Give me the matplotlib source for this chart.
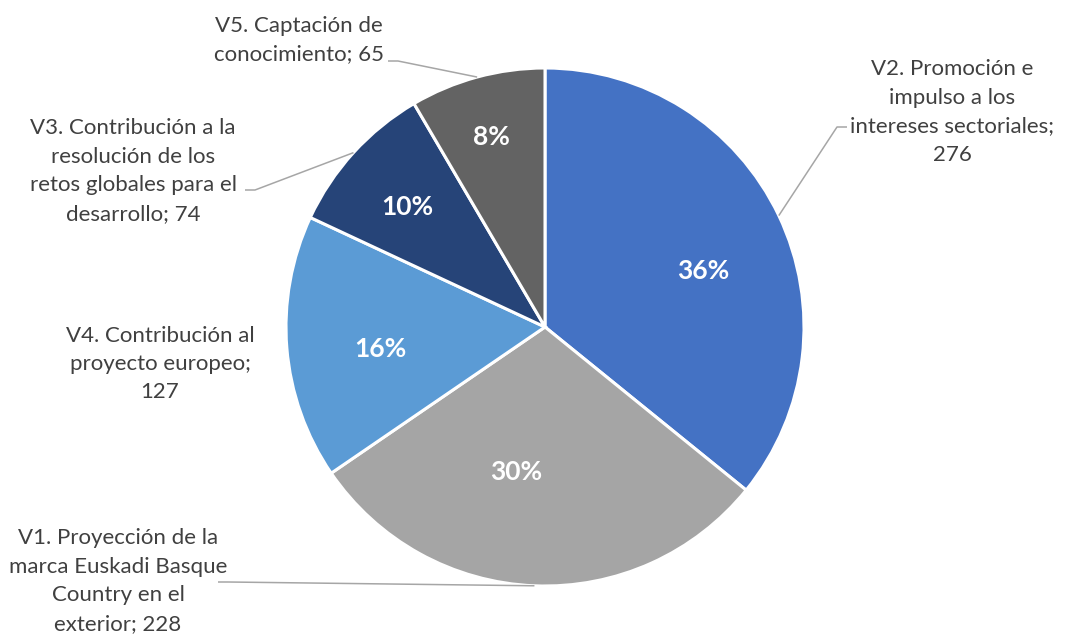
import numpy as np
import matplotlib
matplotlib.use("Agg")
from matplotlib import pyplot as plt

plt.rcParams['font.family'] = ['Lato', 'DejaVu Sans']

# datos (orden de Excel, sentido horario desde arriba)
etiquetas = ["V2. Promoción e\nimpulso a los\nintereses sectoriales;\n276",
             "V1. Proyección de la\nmarca Euskadi Basque\nCountry en el\nexterior; 228",
             "V4. Contribución al\nproyecto europeo;\n127",
             "V3. Contribución a la\nresolución de los\nretos globales para el\ndesarrollo; 74",
             "V5. Captación de\nconocimiento; 65"]
valores = [276, 228, 127, 74, 65]
colores = ["#4472C4", "#A5A5A5", "#5B9BD5", "#264478", "#636363"]

W, H = 1067, 634
cx, cy, R = 545, H - 327, 259

# posicion de las etiquetas (pixeles, y desde arriba)
pos_etq = [(952, 112), (118, 581), (160, 364), (133, 171), (299, 40)]
pos_pct = [(703, 271), (516, 472), (380, 349), (407, 207), (491, 137)]
guia = [(-1, 127), (1, 582), None, (1, 190), (1, 61)]  # lado del texto, y de la linea
borde_txt = [847, 218, None, 245, 388]

fig = plt.figure(figsize=(W / 100, H / 100), dpi=100)
ax = fig.add_axes([0, 0, 1, 1])

wedges, _ = ax.pie(valores, colors=colores, startangle=90, counterclock=False,
                   center=(cx, cy), radius=R,
                   wedgeprops=dict(edgecolor="white", linewidth=2.2))
ax.set_xlim(0, W)
ax.set_ylim(0, H)
ax.set_aspect("equal")
ax.axis("off")

total = sum(valores)
for i, w in enumerate(wedges):
    ang = np.deg2rad((w.theta1 + w.theta2) / 2)
    # porcentaje
    px, py = pos_pct[i]
    ax.text(px, H - py, f"{round(100 * valores[i] / total)}%",
            ha="center", va="center", color="white", fontsize=19, fontweight="bold")
    # etiqueta de categoria
    x, y = pos_etq[i]
    ax.text(x, H - y, etiquetas[i], ha="center", va="center", color="#404040",
            fontsize=16, linespacing=1.53)
    # linea guia hasta el punto medio del borde
    if guia[i] is not None:
        lado, yl = guia[i]
        ex, ey = cx + R * np.cos(ang), cy + R * np.sin(ang)
        x0 = borde_txt[i]
        x1 = x0 + lado * 10
        ax.plot([x0, x1, ex], [H - yl, H - yl, ey], color="#A6A6A6", linewidth=1.1,
                solid_capstyle="butt")

fig.savefig("out.png", dpi=100)
